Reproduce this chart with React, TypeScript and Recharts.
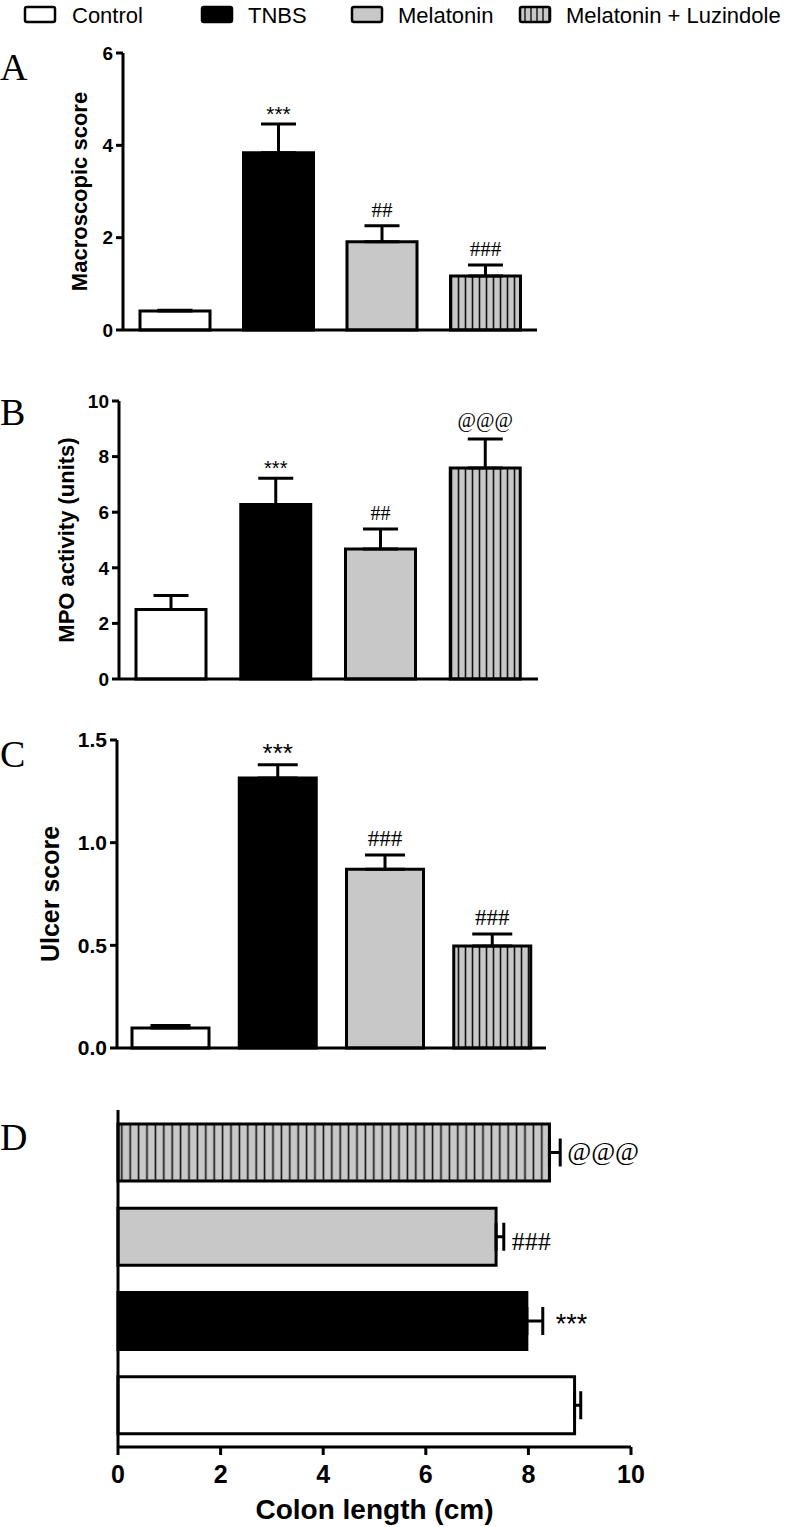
import React from 'react';
import { BarChart, Bar, XAxis, YAxis, ErrorBar, Cell, LabelList } from 'recharts';

// groups, in legend order
const groups = ['Control', 'TNBS', 'Melatonin', 'Melatonin + Luzindole'];

// A - macroscopic score
const macroMean = [0.41, 3.84, 1.91, 1.17];
const macroSem = [0.02, 0.62, 0.35, 0.24];
const macroSig = ['', '***', '##', '###'];
const macroTicks = [0, 2, 4, 6];

// B - MPO activity
const mpoMean = [2.5, 6.28, 4.68, 7.59];
const mpoSem = [0.5, 0.94, 0.72, 1.04];
const mpoSig = ['', '***', '##', '@@@'];
const mpoTicks = [0, 2, 4, 6, 8, 10];

// C - ulcer score
const ulcerMean = [0.097, 1.315, 0.87, 0.497];
const ulcerSem = [0.013, 0.065, 0.07, 0.058];
const ulcerSig = ['', '***', '###', '###'];
const ulcerTicks = [0, 0.5, 1, 1.5];

// D - colon length
const colonMean = [8.9, 7.97, 7.37, 8.41];
const colonSem = [0.12, 0.31, 0.15, 0.21];
const colonSig = ['', '***', '###', '@@@'];
const colonTicks = [0, 2, 4, 6, 8, 10];

const sans = "'Liberation Sans', Arial, sans-serif";
const serif = "'Liberation Serif', 'Times New Roman', serif";
const GRAY = '#c8c8c8';
const fills = ['#ffffff', '#000000', GRAY, 'url(#stripesA)'];
const fillsD = ['#ffffff', '#000000', GRAY, 'url(#stripesD)'];

const build = (mean: number[], sem: number[], sig: string[]) =>
  groups.map((g, i) => ({ group: g, value: mean[i], err: [0, sem[i]], sig: sig[i] }));

const boxOf = (props: any) =>
  props.viewBox && props.viewBox.width !== undefined ? props.viewBox : props;

// significance marks above the error bar
const topLabel = (mean: number[], sem: number[], sig: string[], star: number, other: number) =>
  (props: any) => {
    const i = props.index;
    const s = sig[i];
    if (!s) return null;
    const { x, y, width, height } = boxOf(props);
    const errTop = y - sem[i] * (height / mean[i]);
    const ch = s[0];
    const gap = ch === '*' ? 3 : ch === '@' ? 12 : 9;
    return (
      <text x={x + width / 2} y={errTop - gap} textAnchor="middle" fill="#000"
        fontSize={ch === '*' ? star : other} fontFamily={ch === '*' ? sans : serif}>
        {s}
      </text>
    );
  };

// significance marks right of the error bar (panel D)
const sideLabel = (mean: number[], sem: number[], sig: string[]) =>
  (props: any) => {
    const i = props.index;
    const s = sig[i];
    if (!s) return null;
    const { x, y, width, height } = boxOf(props);
    const errEnd = x + width + sem[i] * (width / mean[i]);
    const ch = s[0];
    const gap = ch === '*' ? 13 : ch === '@' ? 7 : 8;
    const dy = ch === '*' ? 12 : ch === '@' ? 7 : 13;
    return (
      <text x={errEnd + gap} y={y + height / 2 + dy} fill="#000"
        fontSize={ch === '*' ? 27 : 26} fontFamily={ch === '*' ? sans : serif}>
        {s}
      </text>
    );
  };

const axisStyle = { stroke: '#000', strokeWidth: 3 };

type PanelProps = {
  top: number;
  height: number;
  margin: { top: number; right: number; bottom: number; left: number };
  yWidth: number;
  mean: number[];
  sem: number[];
  sig: string[];
  ticks: number[];
  title: string;
  titleOffset: number;
  titleSize: number;
  tickSize: number;
  barSize: number;
  capWidth: number;
  star: number;
  other: number;
  decimals?: number;
};

function VerticalPanel(p: PanelProps) {
  const data = build(p.mean, p.sem, p.sig);
  const max = p.ticks[p.ticks.length - 1];
  return (
    <div style={{ position: 'absolute', left: 0, top: p.top }}>
      <BarChart width={560} height={p.height} data={data} margin={p.margin}>
        <XAxis dataKey="group" tick={false} tickLine={false} height={2} axisLine={axisStyle} />
        <YAxis
          domain={[0, max]}
          ticks={p.ticks}
          interval={0}
          width={p.yWidth}
          axisLine={axisStyle}
          tickLine={axisStyle}
          tickSize={7}
          tickMargin={3}
          tickFormatter={(v: number) => (p.decimals ? v.toFixed(p.decimals) : String(v))}
          tick={{ fill: '#000', fontSize: p.tickSize, fontWeight: 700, fontFamily: sans }}
          label={{
            value: p.title,
            angle: -90,
            position: 'insideLeft',
            offset: p.titleOffset,
            fill: '#000',
            style: { textAnchor: 'middle', fontSize: p.titleSize, fontWeight: 700, fontFamily: sans, fill: '#000' },
          }}
        />
        <Bar dataKey="value" barSize={p.barSize} stroke="#000" strokeWidth={3} isAnimationActive={false}>
          {data.map((d, i) => (
            <Cell key={d.group} fill={fills[i]} />
          ))}
          <ErrorBar dataKey="err" direction="y" width={p.capWidth} stroke="#000" strokeWidth={3} isAnimationActive={false} />
          <LabelList dataKey="sig" content={topLabel(p.mean, p.sem, p.sig, p.star, p.other)} />
        </Bar>
      </BarChart>
    </div>
  );
}

function ColonPanel() {
  const data = build(colonMean, colonSem, colonSig);
  return (
    <div style={{ position: 'absolute', left: 0, top: 1090 }}>
      <BarChart width={700} height={437} data={data} layout="vertical"
        margin={{ top: 20, right: 69, bottom: 5, left: 58 }}>
        <XAxis
          type="number"
          domain={[0, 10]}
          ticks={colonTicks}
          interval={0}
          height={75}
          axisLine={axisStyle}
          tickLine={axisStyle}
          tickSize={8}
          tickMargin={10}
          tick={{ fill: '#000', fontSize: 25, fontWeight: 700, fontFamily: sans }}
          label={{
            value: 'Colon length (cm)',
            position: 'insideBottom',
            offset: 3,
            fill: '#000',
            style: { fontSize: 28, fontWeight: 700, fontFamily: sans, fill: '#000' },
          }}
        />
        <YAxis type="category" dataKey="group" reversed width={60} tick={false} tickLine={false} axisLine={axisStyle} />
        <Bar dataKey="value" barSize={57} stroke="#000" strokeWidth={3} isAnimationActive={false}>
          {data.map((d, i) => (
            <Cell key={d.group} fill={fillsD[i]} />
          ))}
          <ErrorBar dataKey="err" direction="x" width={14} stroke="#000" strokeWidth={3} isAnimationActive={false} />
          <LabelList dataKey="sig" content={sideLabel(colonMean, colonSem, colonSig)} />
        </Bar>
      </BarChart>
    </div>
  );
}

const legendBoxX = [25, 202, 352, 520];
const legendTextX = [72, 248, 398, 566];

export default function App() {
  return (
    <div style={{ position: 'absolute', left: 0, top: 0, width: 788, height: 1527, background: '#fff', overflow: 'hidden' }}>
      <VerticalPanel
        top={30} height={320} margin={{ top: 23, right: 23, bottom: 18, left: 63 }} yWidth={60}
        mean={macroMean} sem={macroSem} sig={macroSig} ticks={macroTicks}
        title="Macroscopic score" titleOffset={16} titleSize={22} tickSize={19}
        barSize={70} capWidth={17.5} star={21} other={21}
      />
      <VerticalPanel
        top={370} height={330} margin={{ top: 31, right: 22, bottom: 19, left: 59 }} yWidth={60}
        mean={mpoMean} sem={mpoSem} sig={mpoSig} ticks={mpoTicks}
        title="MPO activity (units)" titleOffset={7} titleSize={22} tickSize={19}
        barSize={70} capWidth={17.5} star={20} other={20}
      />
      <VerticalPanel
        top={710} height={360} margin={{ top: 30, right: 14, bottom: 20, left: 47 }} yWidth={70}
        mean={ulcerMean} sem={ulcerSem} sig={ulcerSig} ticks={ulcerTicks} decimals={1}
        title="Ulcer score" titleOffset={3} titleSize={25} tickSize={21}
        barSize={77} capWidth={20} star={26} other={23}
      />
      <ColonPanel />
      <svg width={788} height={1527} style={{ position: 'absolute', left: 0, top: 0, pointerEvents: 'none' }}>
        <defs>
          <pattern id="stripesA" patternUnits="userSpaceOnUse" width={7} height={10}>
            <rect x={0} y={0} width={7} height={10} fill={GRAY} />
            <line x1={3.5} y1={0} x2={3.5} y2={10} stroke="#111" strokeWidth={1.6} />
          </pattern>
          <pattern id="stripesD" patternUnits="userSpaceOnUse" width={8.4} height={10}>
            <rect x={0} y={0} width={8.4} height={10} fill={GRAY} />
            <line x1={4.2} y1={0} x2={4.2} y2={10} stroke="#111" strokeWidth={1.6} />
          </pattern>
          <pattern id="stripesL" patternUnits="userSpaceOnUse" width={6} height={10}>
            <rect x={0} y={0} width={6} height={10} fill={GRAY} />
            <line x1={3} y1={0} x2={3} y2={10} stroke="#111" strokeWidth={1.4} />
          </pattern>
        </defs>
        {groups.map((g, i) => (
          <g key={g}>
            <rect x={legendBoxX[i]} y={7} width={30} height={15} rx={2}
              fill={i === 3 ? 'url(#stripesL)' : fills[i]} stroke="#000" strokeWidth={2.5} />
            <text x={legendTextX[i]} y={23} fontSize={22} fontFamily={sans} fill="#000">
              {g}
            </text>
          </g>
        ))}
        <text x={0} y={80} fontSize={38} fontFamily={serif} fill="#000">A</text>
        <text x={0} y={425} fontSize={38} fontFamily={serif} fill="#000">B</text>
        <text x={0} y={767} fontSize={38} fontFamily={serif} fill="#000">C</text>
        <text x={0} y={1150} fontSize={38} fontFamily={serif} fill="#000">D</text>
      </svg>
    </div>
  );
}
